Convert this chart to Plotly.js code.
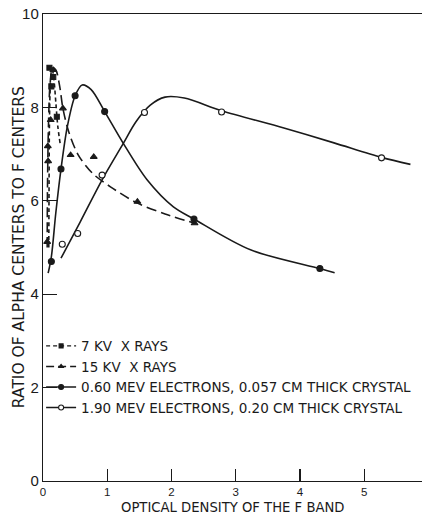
<!DOCTYPE html>
<html>
<head>
<meta charset="utf-8">
<script src="https://cdn.plot.ly/plotly-3.0.1.min.js"></script>
<style>
  html, body { margin: 0; padding: 0; background: #fff; }
  #chart { width: 422px; height: 516px; }
</style>
</head>
<body>
<div id="chart"></div>
<script>
// Measured points (optical density of the F band, ratio alpha/F)
const kv7X = [0.10, 0.13, 0.16, 0.215];
const kv7Y = [8.85, 8.45, 8.65, 7.80];

const kv15X = [0.065, 0.08, 0.075, 0.12, 0.16, 0.31, 0.43, 0.79, 1.47, 2.36];
const kv15Y = [5.12, 6.85, 7.17, 7.73, 8.80, 7.98, 6.98, 6.94, 5.98, 5.52];

const mev060X = [0.13, 0.28, 0.50, 0.96, 2.35, 4.31];
const mev060Y = [4.70, 6.68, 8.25, 7.91, 5.61, 4.55];

const mev190X = [0.30, 0.54, 0.92, 1.58, 2.78, 5.27];
const mev190Y = [5.07, 5.30, 6.55, 7.89, 7.90, 6.92];

// Hand-drawn smooth curves through each set
const kv7CurveX = [0.09, 0.095, 0.10, 0.115, 0.14, 0.17, 0.20, 0.23, 0.27];
const kv7CurveY = [5.00, 6.50, 7.60, 8.50, 8.85, 8.60, 8.10, 7.60, 7.20];

const kv15CurveX = [0.065, 0.07, 0.085, 0.11, 0.15, 0.20, 0.26, 0.31, 0.40, 0.55, 0.77, 1.05, 1.47, 1.90, 2.36];
const kv15CurveY = [5.00, 6.30, 7.60, 8.50, 8.85, 8.80, 8.45, 7.98, 7.48, 6.98, 6.59, 6.30, 5.95, 5.72, 5.52];

const mev060CurveX = [0.08, 0.13, 0.20, 0.28, 0.38, 0.50, 0.61, 0.75, 0.96, 1.25, 1.62, 2.03, 2.35, 3.23, 4.31, 4.54];
const mev060CurveY = [4.45, 4.80, 5.75, 6.68, 7.60, 8.25, 8.48, 8.38, 7.91, 7.23, 6.45, 5.87, 5.61, 4.95, 4.55, 4.46];

const mev190CurveX = [0.28, 0.58, 0.92, 1.25, 1.45, 1.67, 1.90, 2.20, 2.78, 3.75, 4.53, 5.27, 5.72];
const mev190CurveY = [4.77, 5.55, 6.45, 7.23, 7.70, 8.05, 8.22, 8.20, 7.93, 7.56, 7.24, 6.93, 6.78];

const legendNames = [
  "7 KV  X RAYS",
  "15 KV  X RAYS",
  "0.60 MEV ELECTRONS, 0.057 CM THICK CRYSTAL",
  "1.90 MEV ELECTRONS, 0.20 CM THICK CRYSTAL"
];

const xTitle = "OPTICAL DENSITY OF THE F BAND";
const yTitle = "RATIO OF ALPHA CENTERS TO F CENTERS";

const ink = "#1a1a1a";
const font = "Liberation Sans, Arial, sans-serif";
const wide = "DejaVu Sans, Verdana, sans-serif";

function markerStyle(open, size) {
  return { symbol: "circle", size: size, color: open ? "#fff" : ink,
           line: { color: ink, width: 1.1 } };
}
function curve(x, y, dash) {
  return {
    x: x, y: y, type: "scatter", mode: "lines", showlegend: false, hoverinfo: "skip",
    line: { color: ink, width: 1.6, dash: dash, shape: "spline", smoothing: 0.9 }
  };
}
function pts(x, y, symbol, size, open) {
  const m = markerStyle(open, size);
  m.symbol = symbol;
  return { x: x, y: y, type: "scatter", mode: "markers", showlegend: false, marker: m };
}
function key(name, symbol, size, dash, open) {
  const m = markerStyle(open, size);
  m.symbol = symbol;
  return {
    x: [null], y: [null], type: "scatter", mode: "lines+markers", name: name,
    line: { color: ink, width: 1.4, dash: dash }, marker: m
  };
}

const data = [
  curve(kv7CurveX, kv7CurveY, "4px,3px"),
  curve(kv15CurveX, kv15CurveY, "10px,5px"),
  curve(mev060CurveX, mev060CurveY, "solid"),
  curve(mev190CurveX, mev190CurveY, "solid"),
  pts(kv7X, kv7Y, "square", 5, false),
  pts(kv15X, kv15Y, "triangle-up", 6, false),
  pts(mev060X, mev060Y, "circle", 6, false),
  pts(mev190X, mev190Y, "circle", 6, true),
  key(legendNames[0], "square", 4, "4px,3px", false),
  key(legendNames[1], "triangle-up", 4, "8px,4px", false),
  key(legendNames[2], "circle", 5, "solid", false),
  key(legendNames[3], "circle", 5, "solid", true)
];

const layout = {
  width: 422, height: 516,
  margin: { l: 43, r: 0, t: 14, b: 35 },
  paper_bgcolor: "#fff", plot_bgcolor: "#fff",
  font: { family: font, color: ink },
  showlegend: true,
  legend: {
    x: -0.005, y: 0.322, xanchor: "left", yanchor: "top",
    bgcolor: "rgba(0,0,0,0)", borderwidth: 0,
    font: { family: wide, size: 13.5, color: ink },
    itemwidth: 30, tracegroupgap: 0
  },
  xaxis: {
    range: [0, 5.9], showgrid: false, zeroline: false,
    showline: true, linecolor: ink, linewidth: 1.2, mirror: true,
    ticks: "inside", ticklen: 12, tickwidth: 1.2, tickcolor: ink,
    tickvals: [0, 1, 2, 3, 4, 5], ticktext: ["0", "1", "2", "3", "4", "5"],
    tickfont: { family: font, size: 11.5, color: ink }
  },
  yaxis: {
    range: [0, 10], showgrid: false, zeroline: false,
    showline: true, linecolor: ink, linewidth: 1.2,
    ticks: "inside", ticklen: 14, tickwidth: 1.2, tickcolor: ink,
    tickvals: [0, 2, 4, 6, 8, 10], ticktext: ["0", "2", "4", "6", "8", "10"],
    tickfont: { family: font, size: 15, color: ink }
  },
  annotations: [
    { text: xTitle, xref: "paper", yref: "paper", x: 0.5, y: -0.056,
      xanchor: "center", yanchor: "middle", showarrow: false,
      font: { family: wide, size: 13.2, color: ink } },
    { text: yTitle, xref: "paper", yref: "paper", x: -0.063, y: 0.501,
      xanchor: "center", yanchor: "middle", showarrow: false, textangle: -90,
      font: { family: wide, size: 15.5, color: ink } }
  ]
};

Plotly.newPlot("chart", data, layout, { displayModeBar: false, staticPlot: true });
</script>
</body>
</html>
